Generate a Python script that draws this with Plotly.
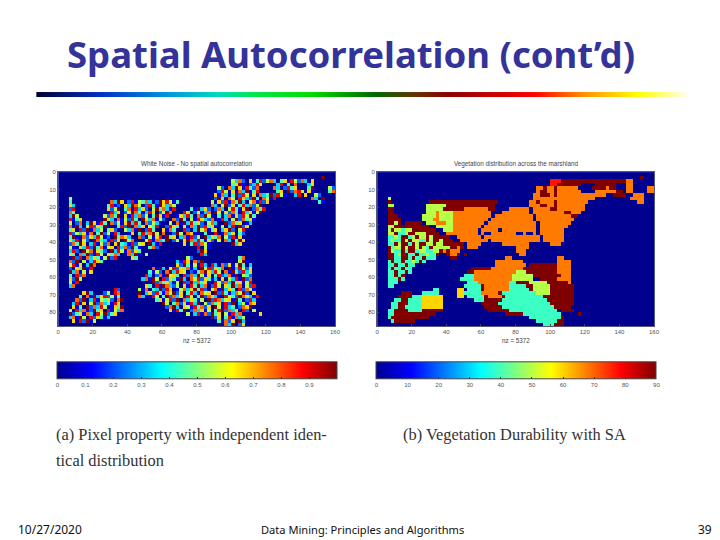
import plotly.graph_objects as go

# slide texts
slide_title = "Spatial Autocorrelation (cont\u2019d)"
left_title = "White Noise - No spatial autocorrelation"
right_title = "Vegetation distribution across the marshland"
left_xlabel = "nz = 5372"
right_xlabel = "nz = 5372"
caption_a = ["(a) Pixel property with independent iden-", "tical distribution"]
caption_b = "(b) Vegetation Durability with SA"
footer_date = "10/27/2020"
footer_mid = "Data Mining: Principles and Algorithms"
footer_page = "39"

map_xticks = [0, 20, 40, 60, 80, 100, 120, 140, 160]
map_yticks = [0, 10, 20, 30, 40, 50, 60, 70, 80]
left_cbar_ticks = [0, 0.1, 0.2, 0.3, 0.4, 0.5, 0.6, 0.7, 0.8, 0.9]
right_cbar_ticks = [0, 10, 20, 30, 40, 50, 60, 70, 80, 90]

# matlab jet
jet = [[0, "rgb(0,0,143)"], [0.125, "rgb(0,0,255)"], [0.375, "rgb(0,255,255)"],
       [0.625, "rgb(255,255,0)"], [0.875, "rgb(255,0,0)"], [1, "rgb(128,0,0)"]]

# rainbow rule under the title
rule_colors = [[0, "rgb(0,0,50)"], [0.1, "rgb(0,50,200)"], [0.2, "rgb(0,150,220)"],
               [0.28, "rgb(0,220,190)"], [0.33, "rgb(0,230,80)"], [0.42, "rgb(0,220,0)"],
               [0.52, "rgb(0,100,0)"], [0.58, "rgb(100,50,0)"], [0.63, "rgb(140,0,0)"],
               [0.76, "rgb(255,0,0)"], [0.84, "rgb(255,150,0)"], [0.92, "rgb(255,255,0)"],
               [1, "rgb(255,255,255)"]]

# vegetation classes
veg_values = {".": 0, "c": 39, "g": 50, "y": 60, "o": 68, "r": 77, "d": 90}

# right map: one line per 2 unit row, runs of (count)(class)
veg_rows = [
    "",
    "76. 1d",
    "50. 3r 19d 2o",
    "50. 2r 7d 4. 6d 3. 2o",
    "46. 2o 1d 2o 1d 6o 4. 4d 1o 2d 3. 2o 4. 2o",
    "46. 1o 2d 2o 1d 7o 4. 6o 2d 1. 2o 4. 2o",
    "45. 2o 3d 1o 1d 14o 2. 4d 2. 3o",
    "3. 1g 41. 18o 10. 4o",
    "3. 1d 11. 20d 9. 2o 1d 4o 1d 9o 14. 2o",
    "3. 2g 9. 6g 14d 10. 3o 2d 2o 1d 8o",
    "3. 2d 9. 5g 6d 7o 2d 4. 6o 1. 5o 2d 8o",
    "3. 2d 9. 3g 1o 4g 11o 3. 8o 1. 9o 2d 3o",
    "3. 3d 7. 4g 1o 4g 11o 1. 11o 1. 10o 2d",
    "3. 4d 6. 3g 2o 4g 10o 1. 12o 1. 11o",
    "3. 2d 1g 1d 1. 5d 1. 3g 3o 2g 9o 1. 14o 1. 9o",
    "3. 2g 10d 2. 5g 8o 1. 15o 1. 8o",
    "3. 1g 1d 2g 1c 2g 7d 2. 3g 7o 1. 5o 1. 10o 1. 7o",
    "3. 2g 1d 2c 1g 2d 3g 4d 2. 9o 1. 1o 2. 7o 2. 1o 2. 1o 1. 7o",
    "3. 2c 1g 1c 2d 1c 1g 1d 2g 1d 1g 5d 2. 7o 1. 16o 1. 6o",
    "3. 1c 1g 2c 1d 1g 1d 2g 2c 1d 1g 2d 1g 3d 2. 8o 1. 14o 1. 6o",
    "3. 2c 1d 1g 2d 1c 1d 1g 2d 2g 1d 2g 6d 1. 4o 6. 8o 6. 3o",
    "3. 1d 1c 2g 1d 1g 2d 1g 1d 1g 1c 1d 5g 2d 1o 1d 1. 3o 11. 4o",
    "3. 1d 1g 2c 1d 1c 2d 1c 2g 2c 2g 1d 1o 1d 2o 1o 16. 3o",
    "3. 2d 1c 1g 2d 2c 1d 2c 1g 2c 1d 2. 1d 2o 1d 1. 1d 15. 2o",
    "3. 2d 2c 2d 1c 1d 2c 1d 2c 1c 4. 2d 14. 2o 13. 2o",
    "3. 1c 1d 2c 1d 2c 1g 1c 1d 1c 20. 8o 10. 4o",
    "3. 2c 1d 2c 1d 2c 23. 9o 1. 8d 4o",
    "3. 1c 1d 2c 1d 2c 17. 6d 9o 10d 4o",
    "3. 2c 1d 2c 1d 1c 16. 2d 12o 3g 9d 4o",
    "3. 2c 1d 1c 1d 17. 3c 11o 6g 8d 3o",
    "3. 3c 1d 1c 16. 4c 11o 6g 2. 5d 4o",
    "3. 3c 20. 3c 9o 2c 4d 5g 6d 1o",
    "3. 2c 20. 5c 1d 7o 5c 2d 5g 7d",
    "16. 2c 5. 2y 1. 4c 1d 7o 6c 1d 5g 7d",
    "7. 3d 3. 5c 5. 2y 5c 5o 1d 10c 4g 7d",
    "6. 4d 3c 6y 4. 2y 1. 5c 1d 4o 1d 11c 9d",
    "5. 2c 2d 4c 6y 9. 3c 5d 13c 8d",
    "4. 2c 3d 4c 6y 11. 5d 15c 7d",
    "4. 2c 2d 5c 6y 12. 5d 15c 5d",
    "3. 2c 4d 4c 6d 13. 6d 14c 1. 4d",
    "3. 2c 12d 20. 5d 11c 5. 1d",
    "3. 1c 11d 29. 9c 1d",
    "4. 1c 6d 35. 6c 2d",
    "48. 3c 3d",
]

# left map: one line per 2 unit row, start column : tenths-like digits
noise_rows = [
    "",
    "76:9",
    "50:537206148257304618527306",
    "50:469102385 63:381407 72:36",
    "46:520739618427 62:7302846 72:49 78:52",
    "46:285061739148 63:46092785 72:61 78:47",
    "45:617304928516073492851 68:3806 74:52",
    "3:5 45:294075186329407518 73:7309",
    "3:4 15:73960281547302968514 44:50628174930571826 75:41",
    "3:63 14:48120639750284196375 44:7305926148372590",
    "3:28 14:62590471836205947318 38:419362 45:273058416902748",
    "3:74 14:1836025974138602597 36:86025137 45:95162740836159",
    "3:395 13:5274906183725049618 34:16384072951 46:403716285940",
    "3:8146 13:963071528409637152 33:729405186327 46:18305927461",
    "3:5027 8:3961840725169384072531 32:50719384620573 48:92746013",
    "3:719305826491 17:482917360548 31:286405173928461 47:50381926",
    "3:46082917350462 19:537190284 30:61740 36:8203957146 47:3692058",
    "3:825361704925183 20:160483795 30:7 33:2950761 42:4 45:8 47:1736042",
    "3:491072638512094763 23:7205168 31:9460371825093647 48:528160",
    "3:6381520974318260957 24:05817349 33:25069738416205 48:730496",
    "3:2749603815270694318256 26:9318 36:60482751 50:936",
    "3:5106382947156083729410 26:472 40:8051",
    "3:382095716420938517264 40:296",
    "3:640739218506473 20:7391 25:5 41:83",
    "3:19280736415928 21:64 37:52 52:47",
    "3:72905138640 34:31860729 52:5910",
    "3:58160397 34:629405183 44:830726159403",
    "3:2064918 27:71930582647130958264709138526",
    "3:9371506 26:415207938650214796385071942836",
    "3:40827 25:8302719564082739516048237190542",
    "3:62950 24:3719508264193075826413 47:605381927",
    "3:518 26:092746315082937461085273946158",
    "3:37 25:64081973250618493702851649370528",
    "16:82 23:5170439286015736948205719364082751",
    "7:693 13:25087 23:9036284175926048317560928413759206",
    "6:4071936825140 23:73 26:18504927361850492763108542976318",
    "5:72903815462079 28:46158290736415092873561940283",
    "4:381605927341860 30:950472618390527461829035176",
    "4:614092738501649 31:2793065184726095183402769",
    "3:5083712946081537 32:61849027361504892736 53:8205",
    "3:92461730859246 37:5038172946051837 58:6",
    "3:371950826413 44:9260481735",
    "4:6082915 46:41726093",
    "48:739026",
]

# the page body has an 8px margin, so the figure sits 8px in from the window corner
PAGE = 8
W, H = 720 - PAGE, 540 - PAGE
COLS = 80


def px(x):
    return (x - PAGE) / W


def py(y):
    return 1 - (y - PAGE) / H


def veg_grid(rows):
    grid = []
    for row in rows:
        line = []
        for run in row.split():
            line += [veg_values[run[-1]]] * int(run[:-1])
        grid.append((line + [0] * COLS)[:COLS])
    return grid


def noise_grid(rows):
    grid = []
    for row in rows:
        line = [0.0] * COLS
        for piece in row.split():
            start, digits = piece.split(":")
            for i, d in enumerate(digits):
                if int(start) + i < COLS:
                    line[int(start) + i] = int(d) / 9
        grid.append(line)
    return grid


fig = go.Figure()

grey = "#555555"
cb_font = dict(size=6, color=grey, family="Liberation Sans")

fig.add_trace(go.Heatmap(
    z=noise_grid(noise_rows), x0=1, dx=2, y0=1, dy=2, xaxis="x", yaxis="y",
    colorscale=jet, zmin=0, zmax=1, hoverinfo="skip",
    colorbar=dict(orientation="h", x=px(56), xanchor="left", y=py(389.8), yanchor="bottom",
                  len=280, lenmode="pixels", thickness=16.6, xpad=0, ypad=0,
                  tickmode="array", tickvals=left_cbar_ticks, ticks="inside", ticklen=2,
                  tickcolor="#333333", outlinecolor="#444444", outlinewidth=1,
                  tickfont=cb_font)))

fig.add_trace(go.Heatmap(
    z=veg_grid(veg_rows), x0=1, dx=2, y0=1, dy=2, xaxis="x2", yaxis="y2",
    colorscale=jet, zmin=0, zmax=90, hoverinfo="skip",
    colorbar=dict(orientation="h", x=px(378.6), xanchor="left", y=py(389.8), yanchor="bottom",
                  len=280, lenmode="pixels", thickness=16.6, xpad=0, ypad=0,
                  tickmode="array", tickvals=right_cbar_ticks, ticks="inside", ticklen=2,
                  tickcolor="#333333", outlinecolor="#444444", outlinewidth=1,
                  tickfont=cb_font)))

fig.add_trace(go.Heatmap(
    z=[[0, 1], [0, 1]], x=[0, 1], y=[0, 1], xaxis="x3", yaxis="y3", zsmooth="best",
    colorscale=rule_colors, zmin=0, zmax=1, showscale=False, hoverinfo="skip"))

tick_font = dict(size=6, color=grey, family="Liberation Sans")
map_x = dict(range=[0, 160], tickvals=map_xticks, ticks="inside", ticklen=2, tickcolor="#444444",
             showgrid=False, zeroline=False, showline=True, linecolor="#555577", linewidth=1,
             mirror=True, tickfont=tick_font)
map_y = dict(range=[88, 0], tickvals=map_yticks, ticks="inside", ticklen=2, tickcolor="#444444",
             showgrid=False, zeroline=False, showline=True, linecolor="#555577", linewidth=1,
             mirror=True, tickfont=tick_font)
hidden = dict(visible=False, fixedrange=True)

small = dict(size=6.3, color="#444444", family="Liberation Sans")
serif = dict(size=16.4, color="#333333", family="Liberation Serif")
footer = dict(size=12, color="#111111", family="Noto Sans")
texts = [
    (352.5, 51, slide_title, dict(size=36.5, color="#333399", family="Noto Sans", weight="bold"), "center"),
    (197, 162, left_title, small, "center"),
    (520, 162, right_title, small, "center"),
    (197, 339, left_xlabel, small, "center"),
    (520, 339, right_xlabel, small, "center"),
    (52, 434, caption_a[0], serif, "left"),
    (52, 460, caption_a[1], serif, "left"),
    (403.5, 434, caption_b, serif, "left"),
    (14, 529, footer_date, footer, "left"),
    (365, 529, footer_mid, dict(size=11.1, color="#111111", family="Noto Sans"), "center"),
    (720, 529, footer_page, footer, "right"),
]

fig.update_layout(
    width=W, height=H, margin=dict(l=0, r=0, t=0, b=0), autosize=False,
    paper_bgcolor="white", plot_bgcolor="white", showlegend=False,
    xaxis=dict(domain=[px(56.7), px(336.7)], anchor="y", **map_x),
    yaxis=dict(domain=[py(325), py(170)], anchor="x", **map_y),
    xaxis2=dict(domain=[px(379.3), px(659.3)], anchor="y2", **map_x),
    yaxis2=dict(domain=[py(325), py(170)], anchor="x2", **map_y),
    xaxis3=dict(domain=[px(34.5), px(696)], anchor="y3", range=[0, 1], **hidden),
    yaxis3=dict(domain=[py(95), py(89.5)], anchor="x3", range=[0, 1], **hidden),
    annotations=[dict(x=px(x), y=py(y), xref="paper", yref="paper", text=t, showarrow=False,
                      font=f, xanchor=a, yanchor="middle") for x, y, t, f, a in texts],
)

fig.write_html("out.html")
